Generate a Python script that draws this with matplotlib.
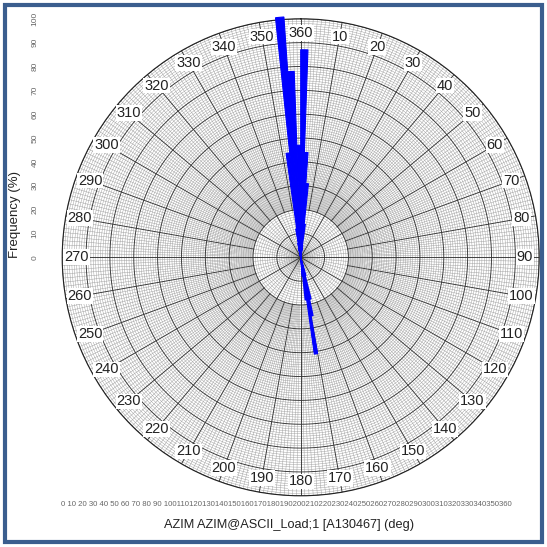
import numpy as np
import matplotlib
matplotlib.use('Agg')
import matplotlib.pyplot as plt
from matplotlib.patches import Rectangle

plt.rcParams['font.family'] = ['Liberation Sans', 'DejaVu Sans']

# 2-degree azimuth bins (start of bin, deg) and frequency (%)
bin_start = [346, 348, 350, 352, 354, 356, 358, 0, 2, 4, 6, 8,
             164, 166, 168, 170, 172, 174]
freq = [4, 6, 12, 44, 101, 78, 47, 87, 44, 31, 14, 5,
        8, 18, 25, 41, 18, 8]
bin_width = 2

angle_labels = list(range(10, 370, 10))
freq_ticks = list(range(0, 110, 10))
x_labels = [str(v) for v in range(0, 370, 10)]
x_title = "AZIM AZIM@ASCII_Load;1 [A130467] (deg)"
y_title = "Frequency (%)"

W = 547
fig = plt.figure(figsize=(5.47, 5.47), dpi=100)

# --- polar rose ---
ax = fig.add_axes([62.2 / W, 1 - 495.8 / W, 477 / W, 477 / W], projection='polar')
ax.set_theta_zero_location('N')
ax.set_theta_direction(-1)
ax.set_ylim(0, 100)
ax.grid(False)
ax.set_xticks([])
ax.set_yticks([])
ax.spines['polar'].set_linewidth(0.8)
ax.spines['polar'].set_color('#222222')

fine = '#959595'
dark = '#333333'
th = np.linspace(0, 2 * np.pi, 721)
for r in range(1, 101):
    if r % 10 == 0:
        ax.plot(th, np.full_like(th, r), color=dark, lw=0.65, zorder=2)
    else:
        ax.plot(th, np.full_like(th, r), color=fine, lw=0.3, zorder=1)

for d in range(0, 360):
    t = np.deg2rad(d)
    if d % 10 == 0:
        r0 = 0 if d % 30 == 0 else 20
        ax.plot([t, t], [r0, 100], color=dark, lw=0.65, zorder=2)
        if r0 > 0:
            ax.plot([t, t], [0, r0], color=fine, lw=0.3, zorder=1)
    elif d % 5 == 0:
        ax.plot([t, t], [0, 100], color=fine, lw=0.3, zorder=1)
    else:
        ax.plot([t, t], [20, 100], color=fine, lw=0.3, zorder=1)

bars = ax.bar(np.deg2rad(bin_start), freq, width=np.deg2rad(bin_width),
              align='edge', color='#0000ff', edgecolor='#0000ff', lw=0.8,
              zorder=5)
for b in bars:
    b.set_clip_on(False)

for d in angle_labels:
    ax.text(np.deg2rad(d), 94, str(d), ha='center', va='center', fontsize=10.5,
            color='#222222', zorder=4,
            bbox=dict(facecolor='white', edgecolor='none', pad=0.6))

# --- frequency scale on the left ---
lax = fig.add_axes([40 / W, 1 - 257.3 / W, 0.001, 238.5 / W])
lax.set_ylim(0, 100)
lax.set_yticks(freq_ticks)
lax.set_yticklabels([str(v) for v in freq_ticks], rotation=90, va='center',
                    fontsize=6, color='#666666')
lax.tick_params(axis='y', length=0, pad=1)
lax.set_xticks([])
for s in lax.spines.values():
    s.set_visible(False)
lax.patch.set_visible(False)

fig.text(15 / W, 1 - 215 / W, y_title, rotation=90, ha='center', va='center',
         fontsize=9.5, color='#222222')

# --- azimuth scale along the bottom ---
x_text = " ".join(x_labels[:10]) + " " + "".join(x_labels[10:])
fig.text(61 / W, 1 - 505 / W, x_text, ha='left', va='center', fontsize=5.6,
         color='#666666')
fig.text(289 / W, 1 - 525 / W, x_title, ha='center', va='center', fontsize=9.2,
         color='#222222')

# --- frame ---
fig.patches.append(Rectangle((5 / W, 5 / W), 537 / W, 537 / W,
                             transform=fig.transFigure, fill=False,
                             edgecolor='#3b5e8e', lw=3))

fig.savefig('out.png', dpi=100)
